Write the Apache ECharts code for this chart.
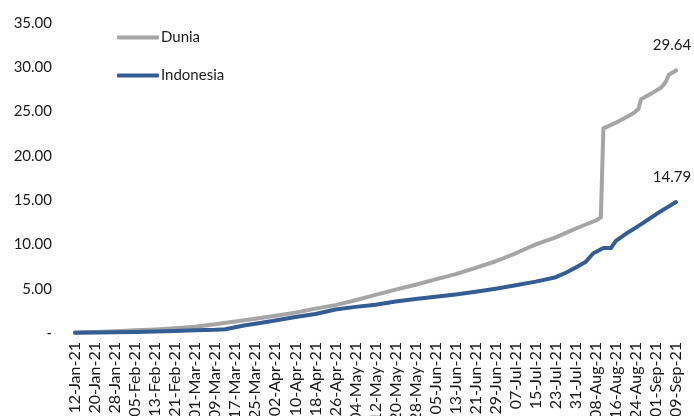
<!DOCTYPE html>
<html>
<head>
<meta charset="utf-8">
<script src="https://cdn.jsdelivr.net/npm/echarts@6/dist/echarts.min.js"></script>
<style>
  html, body { margin: 0; padding: 0; background: #fff; }
</style>
</head>
<body>
<div id="chart" style="width: 694px;height: 416px"></div>
<script>
  // tick labels on the x axis, one every 8 days from 12-Jan-21
  const xLabels = ['12-Jan-21', '20-Jan-21', '28-Jan-21', '05-Feb-21', '13-Feb-21', '21-Feb-21',
    '01-Mar-21', '09-Mar-21', '17-Mar-21', '25-Mar-21', '02-Apr-21', '10-Apr-21', '18-Apr-21',
    '26-Apr-21', '04-May-21', '12-May-21', '20-May-21', '28-May-21', '05-Jun-21', '13-Jun-21',
    '21-Jun-21', '29-Jun-21', '07-Jul-21', '15-Jul-21', '23-Jul-21', '31-Jul-21', '08-Aug-21',
    '16-Aug-21', '24-Aug-21', '01-Sep-21', '09-Sep-21'];

  // days since 12-Jan-21, and values
  const duniaDays = [0, 8, 16, 24, 32, 40, 48, 56, 64, 72, 80, 88, 96, 104, 112, 120, 128, 136, 144,
    152, 160, 168, 176, 184, 192, 200, 208, 210, 211, 216, 219, 223, 225, 226, 230, 234, 235, 236,
    237, 238, 240];
  const duniaVals = [0.05, 0.12, 0.2, 0.3, 0.4, 0.55, 0.7, 1.0, 1.3, 1.6, 1.95, 2.3, 2.75, 3.15, 3.7,
    4.3, 4.9, 5.45, 6.05, 6.65, 7.35, 8.1, 9.0, 10.0, 10.8, 11.8, 12.7, 13.06, 23.1, 23.75, 24.2,
    24.8, 25.3, 26.4, 27.0, 27.7, 28.0, 28.4, 29.1, 29.3, 29.64];

  const indoDays = [0, 8, 16, 24, 32, 40, 48, 56, 60, 64, 68, 72, 80, 88, 96, 104, 112, 120, 128, 136,
    144, 152, 160, 168, 176, 184, 192, 196, 200, 204, 207, 211, 214, 216, 220, 224, 232, 236, 240];
  const indoVals = [0.04, 0.06, 0.09, 0.12, 0.17, 0.23, 0.3, 0.36, 0.42, 0.65, 0.88, 1.05, 1.4, 1.8,
    2.15, 2.65, 2.95, 3.2, 3.55, 3.85, 4.1, 4.35, 4.65, 5.0, 5.4, 5.8, 6.3, 6.8, 7.4, 8.05, 9.0, 9.6,
    9.6, 10.4, 11.2, 11.9, 13.4, 14.1, 14.79];

  const font = 'Lato, "Open Sans", sans-serif';

  function pairs(days, vals) {
    return days.map((d, i) => [d, vals[i]]);
  }

  // value label above the last point of a series
  function endLabel(days, vals) {
    const n = days.length - 1;
    return {
      symbol: 'circle',
      symbolSize: 0,
      label: {
        show: true,
        position: 'inside',
        align: 'center',
        verticalAlign: 'middle',
        offset: [-4, -25],
        fontFamily: font,
        fontSize: 15,
        color: '#1a1a1a',
        formatter: vals[n].toFixed(2)
      },
      data: [{coord: [days[n], vals[n]], value: vals[n]}]
    };
  }

  let chart = echarts.init(document.getElementById('chart'));

  let option = {
    animation: false,
    backgroundColor: '#fff',
    grid: {
      left: 75,
      right: 18,
      top: 23,
      bottom: 83,
      containLabel: false,
      outerBoundsMode: 'none'
    },
    legend: {
      orient: 'vertical',
      left: 112,
      top: 25,
      itemGap: 23,
      itemWidth: 42,
      itemHeight: 4,
      icon: 'roundRect',
      textStyle: {fontFamily: font, fontSize: 15, color: '#1a1a1a', padding: [0, 0, 0, -3]},
      data: ['Dunia', 'Indonesia']
    },
    xAxis: {
      type: 'value',
      min: 0,
      max: 240,
      interval: 8,
      axisLine: {show: false},
      axisTick: {show: false},
      splitLine: {show: false},
      axisLabel: {
        rotate: 90,
        margin: 9,
        fontFamily: font,
        fontSize: 16,
        color: '#1a1a1a',
        formatter: function (v) {
          return xLabels[Math.round(v / 8)] || '';
        }
      }
    },
    yAxis: {
      type: 'value',
      min: 0,
      max: 35,
      interval: 5,
      axisLine: {show: false},
      axisTick: {show: false},
      splitLine: {show: false},
      axisLabel: {
        margin: 23,
        fontFamily: font,
        fontSize: 15,
        color: '#1a1a1a',
        formatter: function (v) {
          return v === 0 ? '-' : v.toFixed(2);
        }
      }
    },
    series: [
      {
        name: 'Dunia',
        type: 'line',
        symbol: 'none',
        data: pairs(duniaDays, duniaVals),
        itemStyle: {color: '#a5a5a5'},
        lineStyle: {color: '#a5a5a5', width: 4, cap: 'round', join: 'round'},
        markPoint: endLabel(duniaDays, duniaVals),
        z: 2
      },
      {
        name: 'Indonesia',
        type: 'line',
        symbol: 'none',
        data: pairs(indoDays, indoVals),
        itemStyle: {color: '#335d93'},
        lineStyle: {color: '#335d93', width: 4, cap: 'round', join: 'round'},
        markPoint: endLabel(indoDays, indoVals),
        z: 3
      }
    ]
  };

  chart.setOption(option);
</script>
</body>
</html>
